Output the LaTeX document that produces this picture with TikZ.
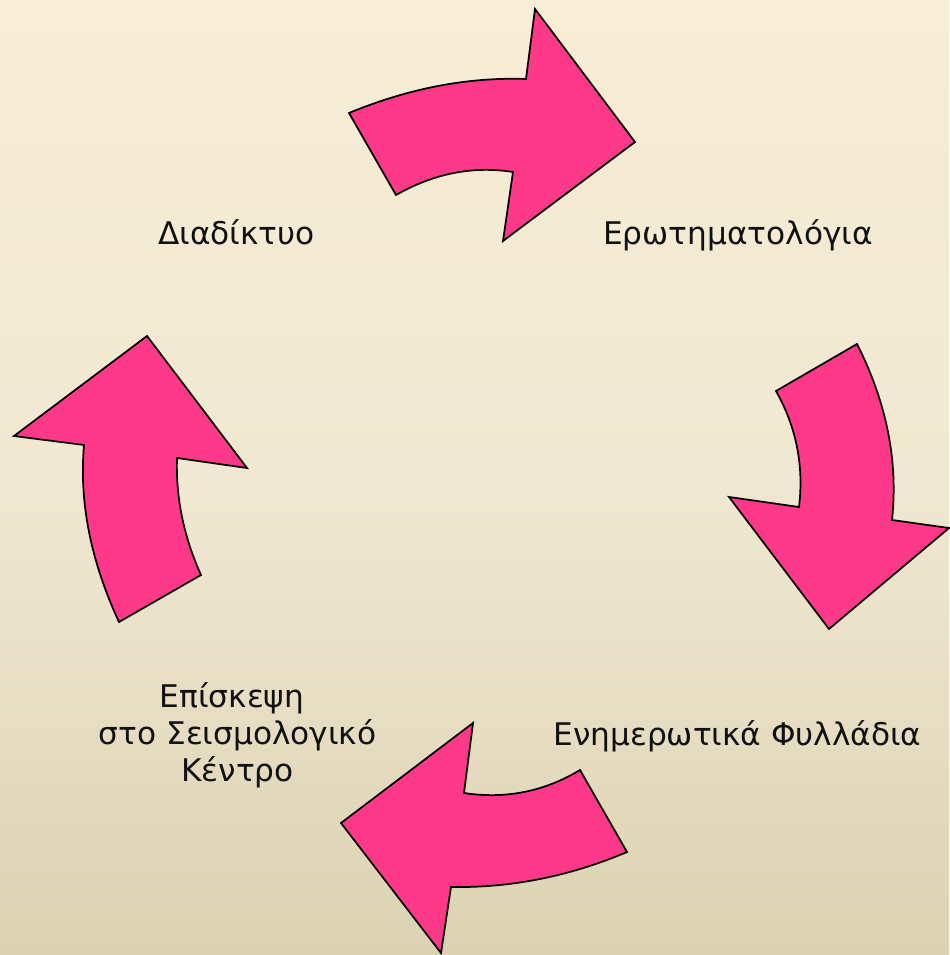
\documentclass[tikz,border=0pt]{standalone}
\usepackage{fontspec}
\setmainfont{DejaVu Sans}
\definecolor{bgtop}{HTML}{F8EDD6}
\definecolor{bgmid}{HTML}{F0E8D2}
\definecolor{bgbot}{HTML}{DCD2B3}
\definecolor{arrowpink}{HTML}{FF3989}
\definecolor{txt}{HTML}{111111}
\begin{document}
\begin{tikzpicture}[x=0.75pt,y=-0.75pt,
  bigarrow/.style={fill=arrowpink,draw=black,line width=1.3pt,line join=miter},
  label/.style={inner sep=0pt,text=txt,font=\fontsize{23.4}{27.75}\selectfont}]
\useasboundingbox (0,0) rectangle (949,955);
\shade[top color=bgtop,bottom color=bgmid] (0,0) rectangle (949,480);
\shade[top color=bgmid,bottom color=bgbot] (0,479) rectangle (949,955);
% top arrow
\draw[bigarrow] (349,113) -- (396,195)
  .. controls (434.3,173.3) and (473.3,165.7) .. (513,172)
  -- (503,241) -- (635,142) -- (535,9) -- (526,79)
  .. controls (467.7,77) and (408.7,88.3) .. (349,113) -- cycle;
% right arrow
\draw[bigarrow] (857,344) -- (776,391)
  .. controls (796.3,427) and (804,465.7) .. (799,507)
  -- (729,497) -- (829,629) -- (949,528) -- (892,520)
  .. controls (898.3,461.3) and (886.7,402.7) .. (857,344) -- cycle;
% bottom arrow
\draw[bigarrow] (580,770) -- (627,852)
  .. controls (569.7,876.3) and (511,888) .. (451,887)
  -- (441,953) -- (341,823) -- (473,723) -- (464,793)
  .. controls (505.3,799.3) and (544,791.7) .. (580,770) -- cycle;
% left arrow
\draw[bigarrow] (119,622) -- (201,575)
  .. controls (183.7,536.7) and (175.7,497.7) .. (177,458)
  -- (247,468) -- (147,336) -- (14,436) -- (84,445)
  .. controls (79,502) and (90.7,561) .. (119,622) -- cycle;
% labels
\node[label,anchor=base] (internet) at (236.5,245) {Διαδίκτυο};
\node[label,anchor=base] (quest) at (738,245) {Ερωτηματολόγια};
\node[label,anchor=base] (leaflets) at (737.5,745) {Ενημερωτικά Φυλλάδια};
\node[label,align=center] (visit) at (237.5,735) {Επίσκεψη\hspace{0.35em}\mbox{}\\στο Σεισμολογικό\\Κέντρο};
\end{tikzpicture}
\end{document}
